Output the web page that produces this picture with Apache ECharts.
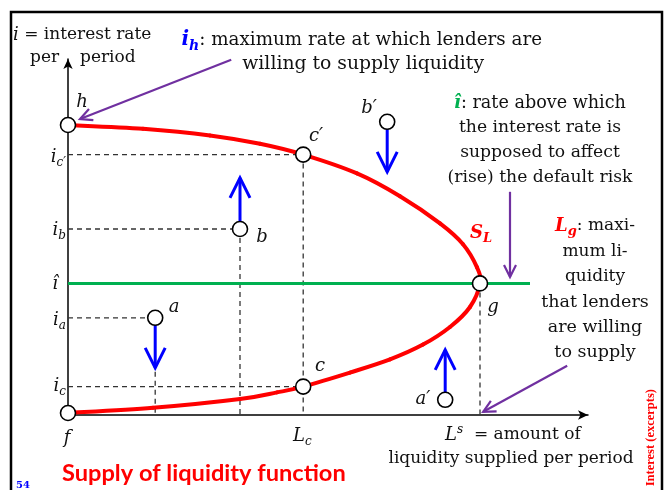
<!DOCTYPE html>
<html>
<head>
<meta charset="utf-8">
<script src="https://cdn.jsdelivr.net/npm/echarts@6/dist/echarts.min.js"></script>
<style>
  html, body { margin: 0; padding: 0; background: #fff; }
  #chart { width: 667px; height: 490px; }
</style>
</head>
<body>
<div id="chart"></div>
<script>
// x = liquidity supplied per period, y = interest rate (arbitrary units)
const curveX = [0, 18.75, 35.5, 48, 58.8, 72.25, 83, 93, 98.75, 102.25, 103, 100.5, 95.5, 88.75, 80.5, 70.5, 58.8, 52.25, 43, 21.25, 0]
const curveY = [72.5, 71.55, 69.9, 67.8, 65.1, 60.4, 54.7, 47.9, 42.7, 36.9, 32.9, 27, 22, 17.6, 13.9, 10.6, 7.1, 5.65, 4, 1.8, 0.5]

const iHat = 32.9
const iHatEnd = 115.5

const pointNames = ['h', 'c′', 'g', 'c', 'f', 'b', 'a', 'b′', 'a′']
const pointX = [0, 58.8, 103, 58.8, 0, 43, 21.8, 79.8, 94.3]
const pointY = [72.5, 65.1, 32.9, 7.1, 0.5, 46.5, 24.3, 73.3, 3.8]

// dashed guides: horizontal to the rate axis and / or vertical to the quantity axis
const hGuides = ['c′', 'b', 'a', 'c']
const vGuides = ['c′', 'b', 'a', 'g']

// blue arrows: direction of the move of the off-curve points
const moveX = [43, 21.8, 79.8, 94.3]
const moveFrom = [48.3, 22.5, 71.8, 5.5]
const moveTo = [59.3, 11.8, 60.8, 16.3]

// purple pointers from the notes
const noteFromX = [40.8, 110.5, 124.8]
const noteFromY = [88.8, 55.8, 12.3]
const noteToX = [3, 110.5, 103.8]
const noteToY = [74, 34.5, 0.8]

const chart = echarts.init(document.getElementById('chart'))

const serif = '"DejaVu Serif", serif'
const pt = (n) => [pointX[pointNames.indexOf(n)], pointY[pointNames.indexOf(n)]]

const guideSeries = []
hGuides.forEach(n => {
  const p = pt(n)
  guideSeries.push([[0, p[1]], p])
})
vGuides.forEach(n => {
  const p = pt(n)
  guideSeries.push([p, [p[0], 0]])
})

function arrowRender (color, width, head, half) {
  return function (params, api) {
    const p1 = api.coord([api.value(0), api.value(1)])
    const p2 = api.coord([api.value(2), api.value(3)])
    const dx = p2[0] - p1[0]
    const dy = p2[1] - p1[1]
    const len = Math.sqrt(dx * dx + dy * dy)
    const ux = dx / len
    const uy = dy / len
    const bx = p2[0] - ux * head
    const by = p2[1] - uy * head
    return {
      type: 'group',
      children: [
        { type: 'line', shape: { x1: p1[0], y1: p1[1], x2: p2[0], y2: p2[1] }, style: { stroke: color, lineWidth: width } },
        {
          type: 'polyline',
          shape: { points: [[bx - uy * half, by + ux * half], p2, [bx + uy * half, by - ux * half]] },
          style: { stroke: color, lineWidth: width, fill: 'none' }
        }
      ]
    }
  }
}

// supply curve: one cubic piece between each pair of read points (Catmull-Rom tangents)
const curveData = curveX.map((x, i) => [x, curveY[i]])
function curveRender (params, api) {
  const i = params.dataIndex
  const n = curveData.length
  if (i >= n - 1) return null
  const c = (k) => api.coord(curveData[Math.max(0, Math.min(n - 1, k))])
  const p0 = c(i - 1)
  const p1 = c(i)
  const p2 = c(i + 1)
  const p3 = c(i + 2)
  return {
    type: 'bezierCurve',
    shape: {
      x1: p1[0], y1: p1[1], x2: p2[0], y2: p2[1],
      cpx1: p1[0] + (p2[0] - p0[0]) / 6, cpy1: p1[1] + (p2[1] - p0[1]) / 6,
      cpx2: p2[0] - (p3[0] - p1[0]) / 6, cpy2: p2[1] - (p3[1] - p1[1]) / 6
    },
    style: { stroke: '#ff0000', lineWidth: 4, fill: 'none', lineCap: 'round' }
  }
}

const rich = {
  m: { fontFamily: serif, fontStyle: 'italic', fontSize: 18, lineHeight: 24 },
  ms: { fontFamily: serif, fontStyle: 'italic', fontSize: 12, lineHeight: 12, verticalAlign: 'top', padding: [12, 0, 0, 0] },
  sup: { fontFamily: serif, fontStyle: 'italic', fontSize: 12, lineHeight: 12, verticalAlign: 'top', padding: [1, 0, 0, 0] },
  ib: { fontFamily: serif, fontStyle: 'italic', fontWeight: 'bold', fontSize: 20, lineHeight: 24, fill: '#0000ff' },
  ibs: { fontFamily: serif, fontStyle: 'italic', fontWeight: 'bold', fontSize: 14, lineHeight: 13, verticalAlign: 'top', padding: [11, 0, 0, 0], fill: '#0000ff' },
  gb: { fontFamily: serif, fontStyle: 'italic', fontWeight: 'bold', fontSize: 18, lineHeight: 24, fill: '#00b050' },
  rb: { fontFamily: serif, fontStyle: 'italic', fontWeight: 'bold', fontSize: 18, lineHeight: 24, fill: '#ff0000' },
  rbs: { fontFamily: serif, fontStyle: 'italic', fontWeight: 'bold', fontSize: 13, lineHeight: 13, verticalAlign: 'top', padding: [11, 0, 0, 0], fill: '#ff0000' }
}

function txt (x, y, text, o) {
  o = o || {}
  return {
    type: 'text',
    x: x,
    y: y,
    rotation: o.rot || 0,
    z: 100,
    style: {
      text: text,
      fontFamily: o.family || serif,
      fontSize: o.size || 17,
      fontStyle: o.style || 'normal',
      fontWeight: o.weight || 'normal',
      fill: o.color || '#111',
      align: o.align || 'left',
      verticalAlign: 'middle',
      lineHeight: 24,
      rich: rich
    }
  }
}

const labelPos = {
  'h': [82, 102], 'c′': [316, 136], 'b′': [369, 108], 'b': [262, 237], 'a': [174, 307],
  'c': [320, 366], 'a′': [423, 399], 'g': [493, 307]
}

const graphics = [
  { type: 'rect', shape: { x: 11, y: 12, width: 651, height: 500 }, style: { stroke: '#000', lineWidth: 2.5, fill: 'none' }, z: 100 },
  txt(13, 35, '{m|i} = interest rate'),
  txt(30, 58, 'per'),
  txt(80, 58, 'period'),
  txt(542, 40, '{ib|i}{ibs|h}: maximum rate at which lenders are', { align: 'right', size: 18.3 }),
  txt(484, 64, 'willing to supply liquidity', { align: 'right', size: 18.8 }),
  txt(540, 103, '{gb|î}: rate above which', { align: 'center', size: 17.6 }),
  txt(540, 128, 'the interest rate is', { align: 'center', size: 17.2 }),
  txt(540, 153, 'supposed to affect', { align: 'center', size: 17.2 }),
  txt(540, 178, '(rise) the default risk', { align: 'center', size: 17.2 }),
  txt(470, 233, '{rb|S}{rbs|L}'),
  txt(595, 226, '{rb|L}{rbs|g}: maxi-', { align: 'center' }),
  txt(595, 252, 'mum li-', { align: 'center' }),
  txt(595, 277, 'quidity', { align: 'center' }),
  txt(595, 302, 'that lenders', { align: 'center', size: 17.5 }),
  txt(595, 327, 'are willing', { align: 'center', size: 17.5 }),
  txt(595, 352, 'to supply', { align: 'center', size: 17.5 }),
  txt(445, 435, '{m|L}{sup|s}  = amount of'),
  txt(511, 459, 'liquidity supplied per period', { align: 'center' }),
  txt(293, 436, '{m|L}{ms|c}'),
  txt(67, 438, '{m|f}', { align: 'center' }),
  txt(66, 157, '{m|i}{ms|c′}', { align: 'right' }),
  txt(66, 230, '{m|i}{ms|b}', { align: 'right' }),
  txt(58, 284, '{m|î}', { align: 'right' }),
  txt(66, 320, '{m|i}{ms|a}', { align: 'right' }),
  txt(66, 386, '{m|i}{ms|c}', { align: 'right' }),
  txt(62, 473, 'Supply of liquidity function', { family: 'Lato, sans-serif', size: 23.6, weight: 'bold', color: '#ff0000' }),
  txt(16, 485, '54', { size: 10, weight: 'bold', color: '#0000ff' }),
  txt(651, 389, 'Interest (excerpts)', { family: '"Liberation Serif", serif', size: 12.5, weight: 'bold', color: '#ff0000', align: 'right', rot: Math.PI / 2 })
]
Object.keys(labelPos).forEach(n => {
  graphics.push(txt(labelPos[n][0], labelPos[n][1], '{m|' + n + '}', { align: 'center' }))
})

const option = {
  animation: false,
  grid: { left: 68, top: 59, width: 520, height: 356 },
  xAxis: {
    type: 'value', min: 0, max: 130,
    axisLine: { lineStyle: { color: '#000', width: 1.5 }, symbol: ['none', 'arrow'], symbolSize: [7, 10] },
    axisTick: { show: false }, axisLabel: { show: false }, splitLine: { show: false }
  },
  yAxis: {
    type: 'value', min: 0, max: 89,
    axisLine: { lineStyle: { color: '#000', width: 1.5 }, symbol: ['none', 'arrow'], symbolSize: [7, 10] },
    axisTick: { show: false }, axisLabel: { show: false }, splitLine: { show: false }
  },
  graphic: graphics,
  series: [
    ...guideSeries.map(seg => ({
      type: 'line', data: seg, symbol: 'none', silent: true, z: 1,
      lineStyle: { color: '#333', width: 1.3, type: [5, 4] }
    })),
    {
      type: 'line', data: [[0, iHat], [iHatEnd, iHat]], symbol: 'none', z: 2,
      lineStyle: { color: '#00b050', width: 3 }
    },
    {
      type: 'custom', z: 3,
      renderItem: curveRender,
      encode: { x: 0, y: 1 },
      data: curveData
    },
    {
      type: 'custom', z: 4,
      renderItem: arrowRender('#0000ff', 3, 20, 10),
      encode: { x: [0, 2], y: [1, 3] },
      data: moveX.map((x, i) => [x, moveFrom[i], x, moveTo[i]])
    },
    {
      type: 'custom', z: 4,
      renderItem: arrowRender('#7030a0', 2.2, 12, 6),
      encode: { x: [0, 2], y: [1, 3] },
      data: noteFromX.map((x, i) => [x, noteFromY[i], noteToX[i], noteToY[i]])
    },
    {
      type: 'scatter', z: 10, symbol: 'circle', symbolSize: 15,
      itemStyle: { color: '#fff', borderColor: '#000', borderWidth: 1.6, opacity: 1 },
      data: pointX.map((x, i) => [x, pointY[i]])
    }
  ]
}
chart.setOption(option)
</script>
</body>
</html>
